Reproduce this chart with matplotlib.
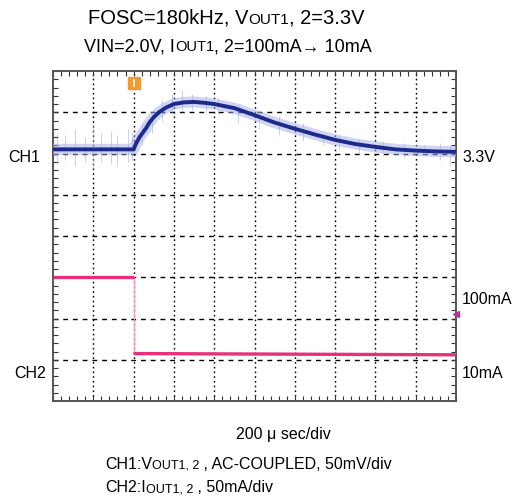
import numpy as np
import matplotlib
matplotlib.use("Agg")
import matplotlib.pyplot as plt
from matplotlib.ticker import MultipleLocator

plt.rcParams['font.family'] = ['Liberation Sans', 'DejaVu Sans']

W, H = 517, 497

# CH1 (VOUT, AC-coupled) trace, in screen divisions
ch1_x = [0.0, 1.0, 2.0, 2.05, 2.15, 2.3, 2.4, 2.5, 2.63, 2.8, 3.0, 3.25, 3.5,
         3.75, 4.0, 4.5, 5.0, 5.5, 6.0, 6.5, 7.0, 7.5, 8.0, 8.5, 9.0, 9.5, 10.0]
ch1_y = [6.1, 6.1, 6.1, 6.22, 6.4, 6.6, 6.76, 6.88, 7.0, 7.11, 7.2, 7.24, 7.25,
         7.23, 7.2, 7.1, 6.93, 6.75, 6.6, 6.46, 6.33, 6.23, 6.16, 6.1, 6.07, 6.05, 6.04]

# noise spikes on CH1 (x, low, high)
spike_x = [0.1, 0.3, 0.55, 0.8, 1.0, 1.2, 1.45, 1.6, 1.85, 1.95, 2.2, 2.45, 2.7,
           2.95, 3.2, 3.45, 3.8, 4.1, 4.6, 5.1, 5.6, 6.2, 6.7, 7.1, 7.6, 8.2,
           8.7, 9.2, 9.6, 9.85]
spike_lo = [5.75, 5.85, 5.7, 5.8, 5.65, 5.8, 5.75, 5.7, 5.8, 5.85, 6.2, 6.5, 6.8,
            6.95, 7.0, 7.05, 7.0, 6.95, 6.75, 6.6, 6.45, 6.3, 6.2, 6.1, 6.0, 5.95,
            5.9, 5.95, 5.85, 5.7]
spike_hi = [6.5, 6.45, 6.6, 6.4, 6.7, 6.5, 6.55, 6.45, 6.6, 6.5, 6.75, 7.0, 7.3,
            7.45, 7.55, 7.45, 7.4, 7.35, 7.2, 7.05, 6.9, 6.75, 6.5, 6.45, 6.35, 6.3,
            6.25, 6.2, 6.25, 6.2]

# CH2 (IOUT) trace
ch2_x = [0.0, 2.0, 2.0, 10.0]
ch2_y = [3.0, 3.0, 1.15, 1.12]

trigger_x = 2.0
ch2_marker_y = 2.1


def px(x, y):
    return x / W, 1 - y / H


def rich_text(fig, x, y, parts, ha='left'):
    # draw pieces of text with different sizes on one baseline (pixel coords)
    renderer = fig.canvas.get_renderer()
    items = []
    for s, size in parts:
        t = fig.text(0, 0, s, fontsize=size, va='baseline', ha='left')
        w = t.get_window_extent(renderer).width
        items.append((t, w))
    total = sum(w for _, w in items)
    if ha == 'center':
        x = x - total / 2
    for t, w in items:
        t.set_position(px(x, y))
        x += w


fig = plt.figure(figsize=(W / 100, H / 100), dpi=100)
ax = fig.add_axes([53 / W, 1 - 401 / H, 403 / W, 330 / H])
ax.set_xlim(0, 10)
ax.set_ylim(0, 8)

# grid: vertical dotted, horizontal dashed
for gx in range(1, 10):
    ax.axvline(gx, color='black', lw=1.0, ls=(0, (1.2, 2.2)), zorder=1)
for gy in range(1, 8):
    ax.axhline(gy, color='black', lw=1.0, ls=(0, (3.5, 3.5)), zorder=1)

ax.xaxis.set_major_locator(MultipleLocator(0.2))
ax.yaxis.set_major_locator(MultipleLocator(0.2))
ax.tick_params(direction='in', length=3.5, width=0.8, top=True, right=True,
               labelbottom=False, labelleft=False, color='#333333')
for sp in ax.spines.values():
    sp.set_color('#555555')
    sp.set_linewidth(1.4)

# CH1
ax.vlines(spike_x, spike_lo, spike_hi, color='#9ca0e0', lw=0.6, alpha=0.6, zorder=2)
ax.plot(ch1_x, ch1_y, color='#a4aae6', lw=8, alpha=0.5, zorder=3,
        solid_capstyle='butt')
ax.plot(ch1_x, ch1_y, color='#1c2a8c', lw=2.8, zorder=4, solid_capstyle='butt')

# CH2
ax.plot(ch2_x[:2], ch2_y[:2], color='#e8307a', lw=2.4, zorder=4, solid_capstyle='butt')
ax.plot(ch2_x[1:3], ch2_y[1:3], color='#f4a0c0', lw=0.8, zorder=3)
ax.plot(ch2_x[2:], ch2_y[2:], color='#e8307a', lw=2.4, zorder=4, solid_capstyle='butt')

# markers
ax.plot([trigger_x], [7.7], marker='s', ms=8, color='#f09a30', zorder=6,
        clip_on=False)
ax.plot([trigger_x, trigger_x], [7.63, 7.79], color='white', lw=1.2, zorder=7)
ax.plot([10.0], [ch2_marker_y], marker='<', ms=5, color='#c0309c', zorder=6,
        clip_on=False)

# channel labels
fs = 11.5
fig.text(*px(40, 157), 'CH1', fontsize=fs, ha='right', va='center')
fig.text(*px(46, 373), 'CH2', fontsize=fs, ha='right', va='center')
fig.text(*px(462, 157), '3.3V', fontsize=fs, ha='left', va='center')
fig.text(*px(462, 300), '100mA', fontsize=fs, ha='left', va='center')
fig.text(*px(462, 373), '10mA', fontsize=fs, ha='left', va='center')

# titles
rich_text(fig, 226, 24, [('FOSC=180kHz, V', 14.5), ('OUT1', 11), (', 2=3.3V', 14.5)],
          ha='center')
rich_text(fig, 228, 51, [('VIN=2.0V, I', 13), ('OUT1', 10.5),
                         (', 2=100mA\u2192 10mA', 13)], ha='center')

# bottom notes
rich_text(fig, 283, 439, [('200 \u03bc sec/div', 11.5)], ha='center')
rich_text(fig, 105, 469, [('CH1:V', 11.5), ('OUT1, 2', 9), (' , AC-COUPLED, 50mV/div', 11.5)])
rich_text(fig, 105, 492, [('CH2:I', 11.5), ('OUT1, 2', 9), (' , 50mA/div', 11.5)])

fig.savefig('out.png', dpi=100)
